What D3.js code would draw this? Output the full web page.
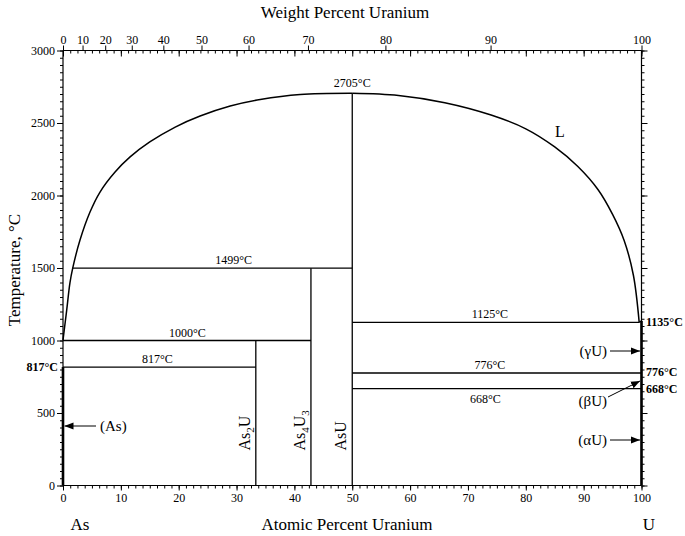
<!DOCTYPE html>
<html><head><meta charset="utf-8">
<script src="https://cdn.jsdelivr.net/npm/d3@7"></script>
<style>body{margin:0;background:#fff}svg{display:block}text{font-family:"Liberation Serif","Times New Roman",serif;fill:#000}</style>
</head><body>
<script>
// ---- data ----
const liquidusLeft = [[0,1003],[0.64,1210],[1.2,1397],[1.68,1499],[2.94,1693],[4.67,1886],[6.4,2024],[9.0,2162],[11.6,2266],[15.0,2369],[19.4,2472],[23.7,2548],[28.9,2617],[34.1,2662],[41.0,2697],[50,2705]];
const liquidusRight = [[50,2705],[58,2690],[66,2640],[74,2555],[80,2460],[85,2335],[89,2200],[92.5,2040],[95,1870],[97,1690],[98.6,1450],[99.6,1125]];
const isotherms = [
  {t:1499, x1:1.68, x2:50, label:"1499°C", lx:29.5},
  {t:1000, x1:0, x2:42.86, label:"1000°C", lx:21.5},
  {t:817, x1:0, x2:33.33, label:"817°C", lx:16.3},
  {t:1125, x1:50, x2:99.6, label:"1125°C", lx:73.8},
  {t:776, x1:50, x2:100, label:"776°C", lx:73.8},
  {t:668, x1:50, x2:100, label:"668°C", lx:73.0, below:true}
];
const compounds = [
  {x:33.33, top:1000, name:"As", sub1:"2", rest:"U", sub2:""},
  {x:42.86, top:1499, name:"As", sub1:"4", rest:"U", sub2:"3"},
  {x:50, top:2705, name:"As", sub1:"", rest:"U", sub2:""}
];
const bottomTicks = [0,10,20,30,40,50,60,70,80,90,100];
const weightTicks = [0,10,20,30,40,50,60,70,80,90,100];
const tempTicks = [0,500,1000,1500,2000,2500,3000];
const leftBold = ["817°C", 817];
const rightBold = [["1135°C",1135],["776°C",776],["668°C",668]];

const W=685,H=536;
const x=d3.scaleLinear().domain([0,100]).range([63,641.5]);
const y=d3.scaleLinear().domain([0,3000]).range([485.5,50.5]);
const svg=d3.select("body").append("svg").attr("width",W).attr("height",H);
const wtToAt = w => { const u=w/238.029, a=(100-w)/74.9216; return 100*u/(u+a); };
const serif='"Liberation Serif","Times New Roman",serif';

const defs=svg.append("defs");
defs.append("marker").attr("id","ah").attr("viewBox","0 0 10 10").attr("refX",10).attr("refY",5)
  .attr("markerWidth",9).attr("markerHeight",9).attr("markerUnits","userSpaceOnUse").attr("orient","auto")
  .append("path").attr("d","M0,1 L10,5 L0,9 Z").attr("fill","#000");

const g=svg.append("g");
// frame lines
g.append("line").attr("x1",x(0)).attr("x2",x(100)).attr("y1",y(0)).attr("y2",y(0)).attr("stroke","#000").attr("stroke-width",1.2);
g.append("line").attr("x1",x(0)).attr("x2",x(100)).attr("y1",y(3000)).attr("y2",y(3000)).attr("stroke","#000").attr("stroke-width",1.2);
g.append("line").attr("x1",x(0)).attr("x2",x(0)).attr("y1",y(0)).attr("y2",y(3000)).attr("stroke","#000").attr("stroke-width",1.2);
g.append("line").attr("x1",x(100)).attr("x2",x(100)).attr("y1",y(0)).attr("y2",y(3000)).attr("stroke","#000").attr("stroke-width",1.2);

function styleAxis(sel){ sel.select(".domain").remove(); sel.attr("font-family",serif); sel.selectAll("text").style("font-size","12px").style("font-family",serif); return sel; }

// bottom axis
const minorX=d3.range(0,100.01,1.25);
styleAxis(svg.append("g").attr("transform",`translate(0,${y(0)})`).call(d3.axisBottom(x).tickValues(bottomTicks).tickSize(5).tickSizeOuter(0).tickPadding(3).tickFormat(d3.format("d"))));
styleAxis(svg.append("g").attr("transform",`translate(0,${y(0)})`).call(d3.axisBottom(x).tickValues(minorX).tickSize(3).tickFormat("")));

// top axis: atomic ticks pointing inward, weight ticks with labels outward
styleAxis(svg.append("g").attr("transform",`translate(0,${y(3000)})`).call(d3.axisBottom(x).tickValues(minorX).tickSize(3).tickFormat("")));
styleAxis(svg.append("g").attr("transform",`translate(0,${y(3000)})`).call(d3.axisBottom(x).tickValues(bottomTicks).tickSize(6).tickFormat("")));
styleAxis(svg.append("g").attr("transform",`translate(0,${y(3000)})`)
  .call(d3.axisTop(x).tickValues(weightTicks.map(wtToAt)).tickSize(5).tickPadding(2).tickFormat((d,i)=>weightTicks[i])));

// left axis
const minorY=d3.range(0,3001,50);
styleAxis(svg.append("g").attr("transform",`translate(${x(0)},0)`).call(d3.axisLeft(y).tickValues(tempTicks).tickSize(6).tickPadding(2).tickFormat(d3.format("d"))));
styleAxis(svg.append("g").attr("transform",`translate(${x(0)},0)`).call(d3.axisLeft(y).tickValues(minorY).tickSize(3).tickFormat("")));
// right axis
styleAxis(svg.append("g").attr("transform",`translate(${x(100)},0)`).call(d3.axisRight(y).tickValues(minorY).tickSize(3).tickFormat("")));
styleAxis(svg.append("g").attr("transform",`translate(${x(100)},0)`).call(d3.axisRight(y).tickValues(tempTicks).tickSize(6).tickFormat("")));

// bold pure-element lines
g.append("line").attr("x1",x(0)).attr("x2",x(0)).attr("y1",y(0)).attr("y2",y(817)).attr("stroke","#000").attr("stroke-width",2.6);
g.append("line").attr("x1",x(100)).attr("x2",x(100)).attr("y1",y(0)).attr("y2",y(1135)).attr("stroke","#000").attr("stroke-width",2.6);

// liquidus
const line=d3.line().x(d=>x(d[0])).y(d=>y(d[1])).curve(d3.curveCatmullRom.alpha(0.5));
g.append("path").attr("d",line(liquidusLeft)).attr("fill","none").attr("stroke","#000").attr("stroke-width",1.5);
g.append("path").attr("d",line(liquidusRight)).attr("fill","none").attr("stroke","#000").attr("stroke-width",1.5);
g.append("line").attr("x1",x(99.6)).attr("x2",x(100)).attr("y1",y(1125)).attr("y2",y(1135)).attr("stroke","#000").attr("stroke-width",1.3);

// isotherms
isotherms.forEach(d=>{
  g.append("line").attr("x1",x(d.x1)).attr("x2",x(d.x2)).attr("y1",y(d.t)).attr("y2",y(d.t)).attr("stroke","#000").attr("stroke-width",1.3);
  g.append("text").attr("x",x(d.lx)).attr("y",d.below? y(d.t)+14 : y(d.t)-4).attr("text-anchor","middle").style("font-size","12px").text(d.label);
});
// compounds
compounds.forEach(d=>{
  g.append("line").attr("x1",x(d.x)).attr("x2",x(d.x)).attr("y1",y(0)).attr("y2",y(d.top)).attr("stroke","#000").attr("stroke-width",1.3);
  const t=g.append("text").attr("transform",`translate(${x(d.x)-6},${y(0)-35}) rotate(-90)`).style("font-size","16px");
  t.append("tspan").text(d.name);
  if(d.sub1) t.append("tspan").attr("dy",4).style("font-size","11px").text(d.sub1);
  t.append("tspan").attr("dy",d.sub1?-4:0).text(d.rest);
  if(d.sub2) t.append("tspan").attr("dy",4).style("font-size","11px").text(d.sub2);
});
g.append("text").attr("x",x(50)).attr("y",y(2705)-6).attr("text-anchor","middle").style("font-size","12px").text("2705°C");
g.append("text").attr("x",560).attr("y",y(2405)).attr("text-anchor","middle").style("font-size","16px").text("L");

// bold side labels
svg.append("text").attr("x",58).attr("y",y(leftBold[1])+4).attr("text-anchor","end").style("font-size","12px").style("font-weight","bold").text(leftBold[0]);
const ryOff={"1135°C":5,"776°C":3,"668°C":4};
rightBold.forEach(d=>svg.append("text").attr("x",646).attr("y",y(d[1])+ryOff[d[0]]).style("font-size","12px").style("font-weight","bold").text(d[0]));

// arrows
const arrows=[
  {txt:"(As)", tx:100, ty:426, anchor:"start", x1:96, y1:426, x2:64.5, y2:426},
  {txt:"(γU)", tx:607, ty:351, anchor:"end", x1:610, y1:351, x2:640, y2:351},
  {txt:"(βU)", tx:607, ty:401, anchor:"end", x1:608, y1:397, x2:640, y2:381},
  {txt:"(αU)", tx:607, ty:440, anchor:"end", x1:610, y1:440, x2:640, y2:440}
];
arrows.forEach(a=>{
  svg.append("line").attr("x1",a.x1).attr("y1",a.y1).attr("x2",a.x2).attr("y2",a.y2).attr("stroke","#000").attr("stroke-width",1).attr("marker-end","url(#ah)");
  svg.append("text").attr("x",a.tx).attr("y",a.ty+5).attr("text-anchor",a.anchor).style("font-size","15px").text(a.txt);
});

// titles
svg.append("text").attr("x",345).attr("y",18).attr("text-anchor","middle").style("font-size","17px").text("Weight Percent Uranium");
svg.append("text").attr("x",347).attr("y",530).attr("text-anchor","middle").style("font-size","17px").text("Atomic Percent Uranium");
svg.append("text").attr("x",80).attr("y",530).attr("text-anchor","middle").style("font-size","17px").text("As");
svg.append("text").attr("x",649).attr("y",530).attr("text-anchor","middle").style("font-size","17px").text("U");
svg.append("text").attr("transform","translate(20,270) rotate(-90)").attr("text-anchor","middle").style("font-size","17px").text("Temperature, °C");
</script>
</body></html>
